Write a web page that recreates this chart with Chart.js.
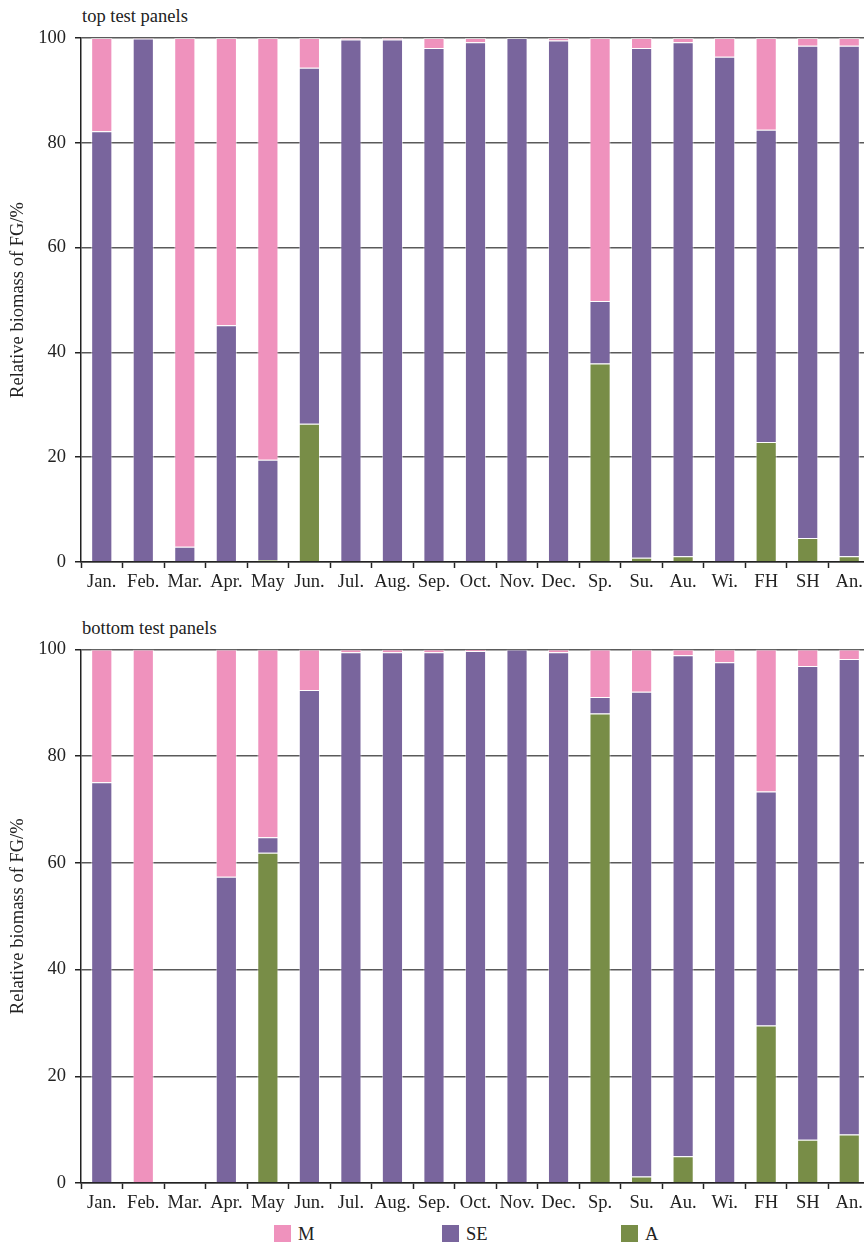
<!DOCTYPE html>
<html>
<head>
<meta charset="utf-8">
<script src="https://cdn.jsdelivr.net/npm/chart.js@4/dist/chart.umd.min.js"></script>
<style>
    body { margin: 0; background: #fff; overflow: hidden; font-family: "Liberation Serif", serif; color: #222; }
    .panel { position: absolute; left: 0; width: 870px; }
    .ptitle { position: absolute; left: 82px; font-size: 18.5px; line-height: 20px; }
    .legend-item { position: absolute; top: 1225px; font-size: 18.5px; line-height: 19px; }
    .legend-item span { display: inline-block; width: 17px; height: 17px; vertical-align: top; margin-right: 7px; }
</style>
</head>
<body>
<div class="ptitle" style="top:6px;">top test panels</div>
<div class="panel" style="top:0;"><canvas id="topChart" width="870" height="600"></canvas></div>
<div class="ptitle" style="top:618px;">bottom test panels</div>
<div class="panel" style="top:611px;"><canvas id="bottomChart" width="870" height="610"></canvas></div>
<div id="legend"></div>
<script>
    var categories = ['Jan.', 'Feb.', 'Mar.', 'Apr.', 'May', 'Jun.', 'Jul.', 'Aug.', 'Sep.', 'Oct.', 'Nov.', 'Dec.', 'Sp.', 'Su.', 'Au.', 'Wi.', 'FH', 'SH', 'An.'];
    var yTicks = [0, 20, 40, 60, 80, 100];
    var seriesNames = ['A', 'SE', 'M'];

    // top panel, % of FG biomass
    var topA = [0, 0, 0, 0, 0.4, 26.4, 0, 0, 0, 0, 0, 0, 37.9, 0.8, 1.1, 0, 22.9, 4.6, 1.1];
    var topSE = [82.2, 99.9, 2.9, 45.2, 19.1, 67.9, 99.7, 99.7, 98.1, 99.2, 100, 99.5, 11.9, 97.3, 98.1, 96.4, 59.6, 93.9, 97.4];
    var topM = [17.8, 0.1, 97.1, 54.8, 80.5, 5.7, 0.3, 0.3, 1.9, 0.8, 0, 0.5, 50.2, 1.9, 0.8, 3.6, 17.5, 1.5, 1.5];

    // bottom panel (Mar. has no data)
    var bottomA = [0, 0, null, 0, 61.9, 0, 0, 0, 0, 0, 0, 0, 88.0, 1.2, 5.0, 0, 29.5, 8.1, 9.1];
    var bottomSE = [75.1, 0, null, 57.4, 2.9, 92.4, 99.5, 99.5, 99.5, 99.7, 100, 99.5, 3.1, 90.9, 93.9, 97.6, 43.9, 88.8, 89.1];
    var bottomM = [24.9, 100, null, 42.6, 35.2, 7.6, 0.5, 0.5, 0.5, 0.3, 0, 0.5, 8.9, 7.9, 1.1, 2.4, 26.6, 3.1, 1.8];

    var colors = { A: '#788d47', SE: '#79659d', M: '#ef92bd' };
    var font = 'Liberation Serif';

    function makeDatasets(a, se, m) {
        var values = { A: a, SE: se, M: m };
        return seriesNames.map(function (name) {
            return {
                label: name,
                data: values[name],
                backgroundColor: colors[name],
                borderColor: 'rgba(255,255,255,0.5)',
                borderWidth: 1,
                barPercentage: 0.51,
                categoryPercentage: 1
            };
        });
    }

    function makeChart(id, datasets, topPad) {
        return new Chart(document.getElementById(id), {
            type: 'bar',
            data: { labels: categories, datasets: datasets },
            options: {
                responsive: false,
                animation: false,
                layout: { padding: { top: topPad, right: 0, left: 0, bottom: 0 } },
                plugins: { legend: { display: false }, tooltip: { enabled: false } },
                scales: {
                    x: {
                        stacked: true,
                        afterFit: function (scale) { scale.height = 38; },
                        grid: { display: true, drawOnChartArea: false, offset: true, tickLength: 6, tickColor: '#222', tickWidth: 1.5 },
                        border: { display: true, color: '#222', width: 1.5 },
                        ticks: { autoSkip: false, maxRotation: 0, padding: 3, color: '#222', font: { family: font, size: 18.5 } }
                    },
                    y: {
                        stacked: true,
                        min: 0,
                        max: 100,
                        afterFit: function (scale) { scale.width = 81; },
                        afterBuildTicks: function (scale) {
                            scale.ticks = yTicks.map(function (v) { return { value: v }; });
                        },
                        grid: { color: '#5a5a5a', lineWidth: 1.5, tickLength: 6, tickColor: '#222' },
                        border: { display: true, color: '#222', width: 1.5 },
                        ticks: { padding: 9, color: '#222', font: { family: font, size: 18.5 } },
                        title: {
                            display: true,
                            text: 'Relative biomass of FG/%',
                            color: '#222',
                            padding: { top: 7, bottom: 0 },
                            font: { family: font, size: 18.5 }
                        }
                    }
                }
            }
        });
    }

    makeChart('topChart', makeDatasets(topA, topSE, topM), 38);
    makeChart('bottomChart', makeDatasets(bottomA, bottomSE, bottomM), 38.5);

    // legend below the bottom panel, order M, SE, A
    var legendPos = { M: 274, SE: 442, A: 621 };
    var legend = document.getElementById('legend');
    ['M', 'SE', 'A'].forEach(function (name) {
        var item = document.createElement('div');
        item.className = 'legend-item';
        item.style.left = legendPos[name] + 'px';
        item.innerHTML = '<span style="background:' + colors[name] + '"></span>' + name;
        legend.appendChild(item);
    });
</script>
</body>
</html>
